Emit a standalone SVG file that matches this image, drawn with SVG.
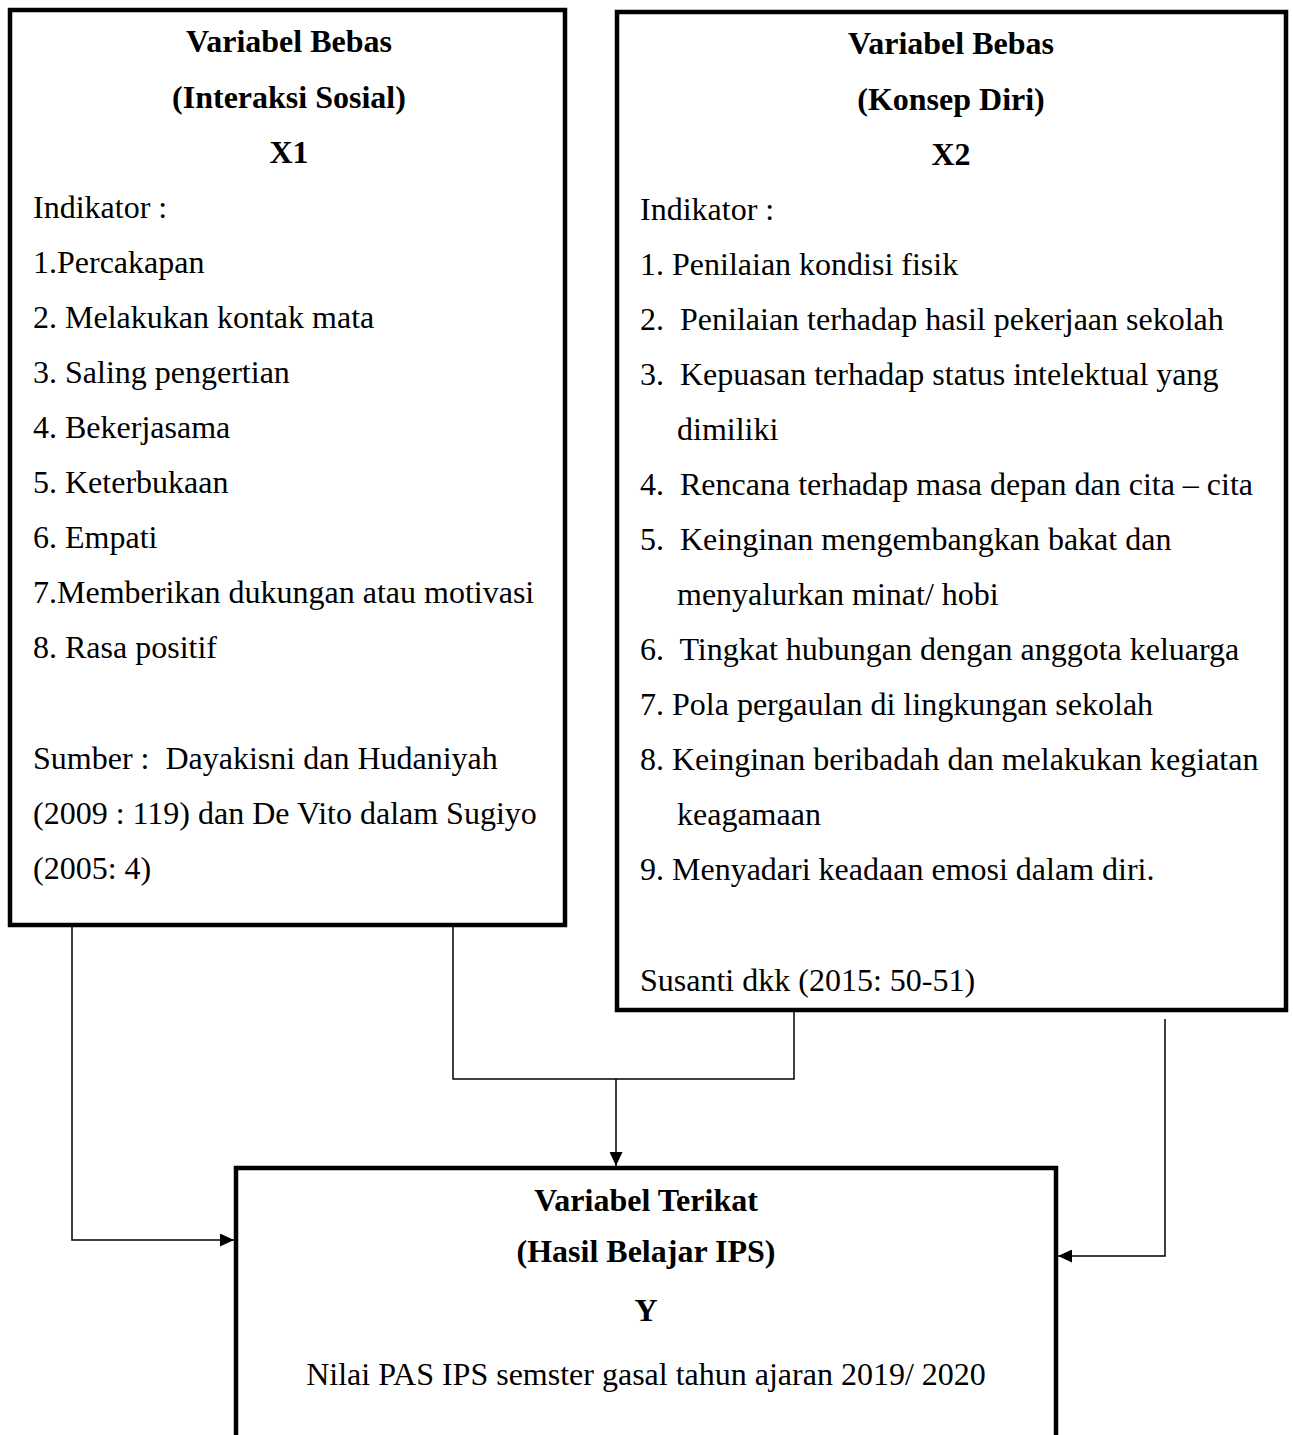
<svg xmlns="http://www.w3.org/2000/svg" width="1293" height="1435" viewBox="0 0 1293 1435">
<style>
.box{fill:#fff;stroke:#000;stroke-width:4.5}
.t{font-family:"Liberation Serif","Times New Roman",serif;font-size:32px;fill:#000}
.h{font-family:"Liberation Serif","Times New Roman",serif;font-size:32px;font-weight:bold;fill:#000;text-anchor:middle}
.c{fill:none;stroke:#000;stroke-width:1.5}
</style>
<defs>
<marker id="arr" viewBox="0 0 10 10" refX="10" refY="5" markerWidth="14" markerHeight="13" markerUnits="userSpaceOnUse" orient="auto" preserveAspectRatio="none">
<path d="M0,0 L10,5 L0,10 z" fill="#000"/>
</marker>
</defs>
<rect width="1293" height="1435" fill="#fff"/>
<g id="x1">
<rect class="box" x="10" y="10" width="555" height="915"/>
<text class="h" x="289" y="52">Variabel Bebas</text>
<text class="h" x="289" y="108">(Interaksi Sosial)</text>
<text class="h" x="289" y="163">X1</text>
<text class="t" x="33" y="218">Indikator :</text>
<text class="t" x="33" y="273">1.Percakapan</text>
<text class="t" x="33" y="328">2. Melakukan kontak mata</text>
<text class="t" x="33" y="383">3. Saling pengertian</text>
<text class="t" x="33" y="438">4. Bekerjasama</text>
<text class="t" x="33" y="493">5. Keterbukaan</text>
<text class="t" x="33" y="548">6. Empati</text>
<text class="t" x="33" y="603">7.Memberikan dukungan atau motivasi</text>
<text class="t" x="33" y="658">8. Rasa positif</text>
<text class="t" x="33" y="769" xml:space="preserve">Sumber :  Dayakisni dan Hudaniyah</text>
<text class="t" x="33" y="824">(2009 : 119) dan De Vito dalam Sugiyo</text>
<text class="t" x="33" y="879">(2005: 4)</text>
</g>
<g id="x2">
<rect class="box" x="617" y="12" width="669" height="998"/>
<text class="h" x="951" y="54">Variabel Bebas</text>
<text class="h" x="951" y="110">(Konsep Diri)</text>
<text class="h" x="951" y="165">X2</text>
<text class="t" x="640" y="220">Indikator :</text>
<text class="t" x="640" y="275">1. Penilaian kondisi fisik</text>
<text class="t" x="640" y="330" xml:space="preserve">2.  Penilaian terhadap hasil pekerjaan sekolah</text>
<text class="t" x="640" y="385" xml:space="preserve">3.  Kepuasan terhadap status intelektual yang</text>
<text class="t" x="677" y="440">dimiliki</text>
<text class="t" x="640" y="495" xml:space="preserve">4.  Rencana terhadap masa depan dan cita – cita</text>
<text class="t" x="640" y="550" xml:space="preserve">5.  Keinginan mengembangkan bakat dan</text>
<text class="t" x="677" y="605">menyalurkan minat/ hobi</text>
<text class="t" x="640" y="660" xml:space="preserve">6.  Tingkat hubungan dengan anggota keluarga</text>
<text class="t" x="640" y="715">7. Pola pergaulan di lingkungan sekolah</text>
<text class="t" x="640" y="770">8. Keinginan beribadah dan melakukan kegiatan</text>
<text class="t" x="677" y="825">keagamaan</text>
<text class="t" x="640" y="880">9. Menyadari keadaan emosi dalam diri.</text>
<text class="t" x="640" y="991">Susanti dkk (2015: 50-51)</text>
</g>
<g id="y">
<rect class="box" x="236" y="1168" width="820" height="300"/>
<text class="h" x="646" y="1211">Variabel Terikat</text>
<text class="h" x="646" y="1262">(Hasil Belajar IPS)</text>
<text class="h" x="646" y="1321">Y</text>
<text class="t" x="646" y="1385" text-anchor="middle">Nilai PAS IPS semster gasal tahun ajaran 2019/ 2020</text>
</g>
<g id="connectors">
<path class="c" d="M72,925 V1240 H234" marker-end="url(#arr)"/>
<path class="c" d="M453,925 V1079 H794 V1010"/>
<path class="c" d="M616,1079 V1166" marker-end="url(#arr)"/>
<path class="c" d="M1165,1019 V1256 H1058" marker-end="url(#arr)"/>
</g>
</svg>
